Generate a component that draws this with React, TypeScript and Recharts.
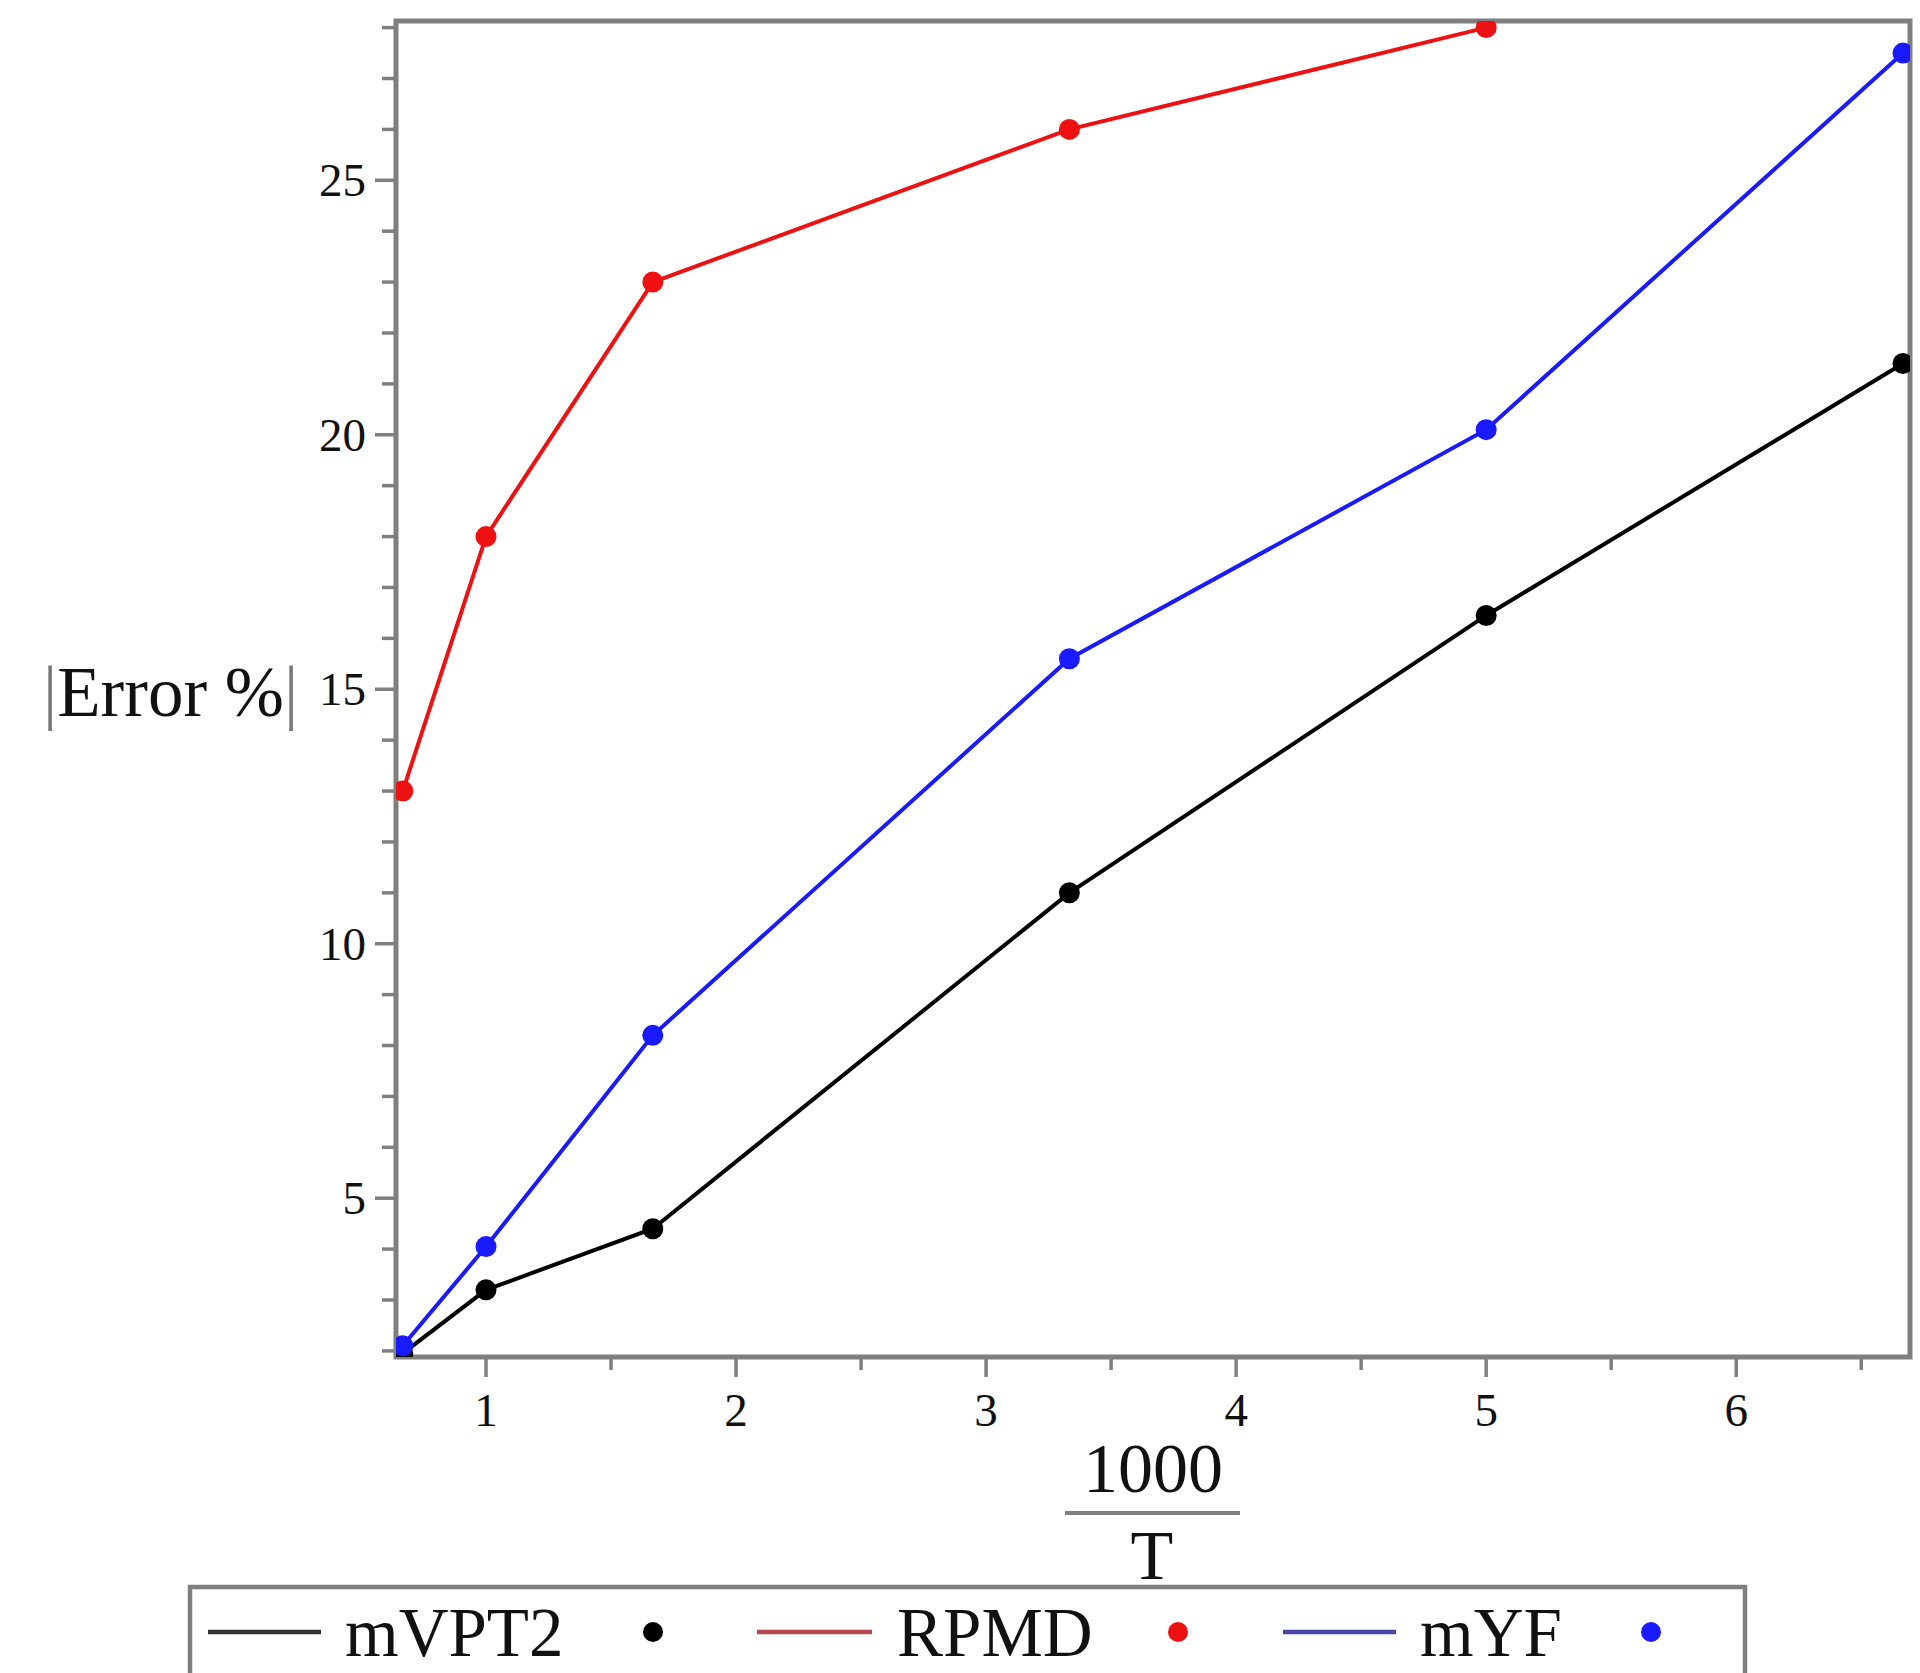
import { LineChart, Line, XAxis, YAxis, ReferenceArea, Customized } from "recharts";

// 1000/T for T = 1500, 1000, 600, 300, 200, 150 K
const invT = [0.667, 1, 1.667, 3.333, 5, 6.667];
const mVPT2 = [1.95, 3.2, 4.4, 11.0, 16.45, 21.4];
const rpmd = [13.0, 18.0, 23.0, 26.0, 28.0, null];
const myf = [2.1, 4.05, 8.2, 15.6, 20.1, 27.5];

const xTicks = [1, 1.5, 2, 2.5, 3, 3.5, 4, 4.5, 5, 5.5, 6, 6.5];
const yTicks = [2, 3, 4, 5, 6, 7, 8, 9, 10, 11, 12, 13, 14, 15, 16, 17, 18, 19, 20, 21, 22, 23, 24, 25, 26, 27, 28];
const xMajor = [1, 2, 3, 4, 5, 6];
const yMajor = [5, 10, 15, 20, 25];

const X_DOMAIN: [number, number] = [0.64, 6.695];
const Y_DOMAIN: [number, number] = [1.88, 28.13];

const FONT = "'Liberation Serif', 'Times New Roman', serif";
const FRAME = "#7f7f7f";

const series = [
  { key: "mVPT2", color: "#000000", legendLine: "#333333" },
  { key: "RPMD", color: "#ee1111", legendLine: "#b5474f" },
  { key: "mYF", color: "#1a1aff", legendLine: "#4b45a6" },
];

const data = invT.map((x, i) => ({ x, mVPT2: mVPT2[i], RPMD: rpmd[i], mYF: myf[i] }));

const AXIS_H = 80;
const AXIS_W = 80;

function XTick(props: any) {
  const { x, y, payload } = props;
  const major = xMajor.includes(payload.value);
  return (
    <g>
      <line x1={x} x2={x} y1={y} y2={y + (major ? 20 : 13)} stroke={FRAME} strokeWidth={3.5} />
      {major && (
        <text x={x} y={y + 69} textAnchor="middle" fontFamily={FONT} fontSize={47} fill="#111">
          {payload.value}
        </text>
      )}
    </g>
  );
}

function YTick(props: any) {
  const { x, y, payload } = props;
  const major = yMajor.includes(payload.value);
  return (
    <g>
      <line x1={x} x2={x - (major ? 21 : 14)} y1={y} y2={y} stroke={FRAME} strokeWidth={3.5} />
      {major && (
        <text x={x - 30} y={y + 16} textAnchor="end" fontFamily={FONT} fontSize={47} fill="#111">
          {payload.value}
        </text>
      )}
    </g>
  );
}

const legendPos = [
  { line: [208, 321], text: 345, dot: 653 },
  { line: [757, 872], text: 897, dot: 1178 },
  { line: [1283, 1396], text: 1420, dot: 1651 },
];

function Annotations() {
  return (
    <g>
      {/* y-axis title */}
      <text x={43} y={716} fontFamily={FONT} fontSize={71} fill="#111">
        <tspan fill="#777">|</tspan>Error %<tspan fill="#777">|</tspan>
      </text>
      {/* x-axis title: 1000 / T */}
      <text x={1153} y={1492} textAnchor="middle" fontFamily={FONT} fontSize={70} fill="#111">1000</text>
      <line x1={1065} x2={1240} y1={1513} y2={1513} stroke={FRAME} strokeWidth={4} />
      <text x={1152} y={1579} textAnchor="middle" fontFamily={FONT} fontSize={70} fill="#111">T</text>
      {/* legend */}
      <rect x={190} y={1587} width={1555} height={140} fill="#fff" stroke={FRAME} strokeWidth={4.5} />
      {series.map((s, i) => (
        <g key={s.key}>
          <line x1={legendPos[i].line[0]} x2={legendPos[i].line[1]} y1={1632} y2={1632} stroke={s.legendLine} strokeWidth={4.5} />
          <text x={legendPos[i].text} y={1656} fontFamily={FONT} fontSize={69} fill="#111">{s.key}</text>
          <circle cx={legendPos[i].dot} cy={1632} r={10} fill={s.color} />
        </g>
      ))}
    </g>
  );
}

export default function App() {
  return (
    <div style={{ position: "absolute", left: 0, top: 0, width: 1920, height: 1673, background: "#fff" }}>
      <LineChart
        width={1920}
        height={1673}
        data={data}
        margin={{ top: 21, right: 10, left: 396 - AXIS_W, bottom: 316 - AXIS_H }}
      >
        <XAxis
          dataKey="x"
          type="number"
          domain={X_DOMAIN}
          allowDataOverflow
          ticks={xTicks}
          interval={0}
          height={AXIS_H}
          tickSize={0}
          tickMargin={0}
          axisLine={false}
          tickLine={false}
          tick={XTick}
        />
        <YAxis
          type="number"
          domain={Y_DOMAIN}
          allowDataOverflow
          ticks={yTicks}
          interval={0}
          width={AXIS_W}
          tickSize={0}
          tickMargin={0}
          axisLine={false}
          tickLine={false}
          tick={YTick}
        />
        <ReferenceArea
          x1={X_DOMAIN[0]}
          x2={X_DOMAIN[1]}
          y1={Y_DOMAIN[0]}
          y2={Y_DOMAIN[1]}
          fill="none"
          stroke={FRAME}
          strokeWidth={5}
          ifOverflow="visible"
        />
        {series.map((s) => (
          <Line
            key={s.key}
            dataKey={s.key}
            type="linear"
            stroke={s.color}
            strokeWidth={4}
            dot={{ r: 10.5, fill: s.color, stroke: "none" }}
            activeDot={false}
            isAnimationActive={false}
          />
        ))}
        <Customized component={Annotations} />
      </LineChart>
    </div>
  );
}
